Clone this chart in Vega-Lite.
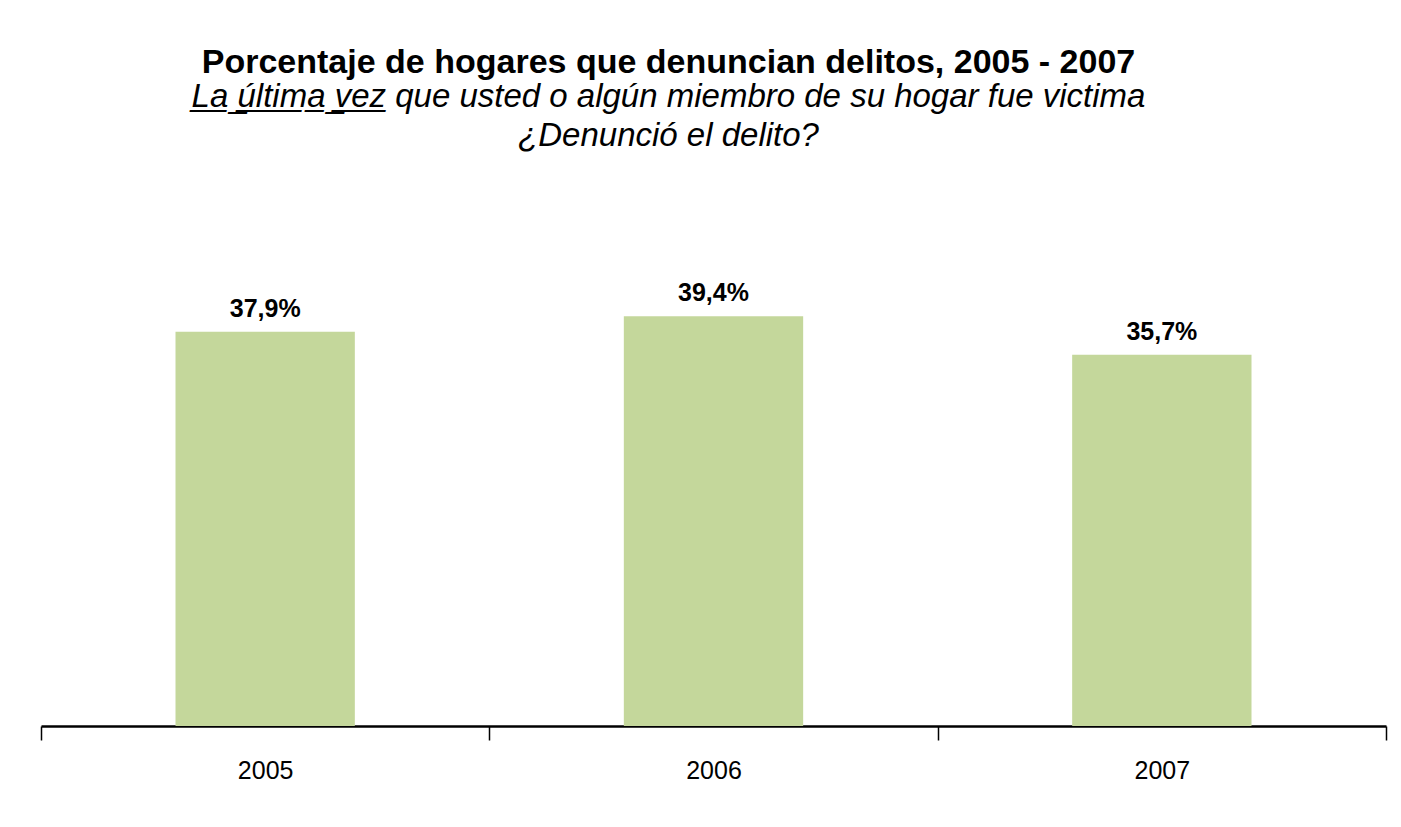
{
  "$schema": "https://vega.github.io/schema/vega-lite/v6.json",
  "autosize": "none",
  "width": 1345,
  "height": 416,
  "padding": {"left": 41, "top": 310, "right": 15, "bottom": 101},
  "background": "white",
  "title": {
    "text": "Porcentaje de hogares que denuncian delitos, 2005 - 2007",
    "subtitle": ["L̲a̲ ̲ú̲l̲t̲i̲m̲a̲ ̲v̲e̲z̲ que usted o algún miembro de su hogar fue victima\u00a0\u00a0\u00a0", "\u00a0\u00a0¿Denunció el delito?"],
    "anchor": "middle",
    "frame": "group",
    "dx": -45,
    "offset": 128,
    "font": "Liberation Sans",
    "fontSize": 34,
    "fontWeight": "bold",
    "color": "black",
    "subtitleFont": "Liberation Sans",
    "subtitleFontSize": 33,
    "subtitleFontStyle": "italic",
    "subtitleColor": "black",
    "subtitleLineHeight": 39,
    "subtitlePadding": 1
  },
  "data": {
    "values": [
      {"year": "2005", "pct": 37.9},
      {"year": "2006", "pct": 39.4},
      {"year": "2007", "pct": 35.7}
    ]
  },
  "transform": [
    {"calculate": "replace(format(datum.pct, '.1f'), '.', ',') + '%'", "as": "label"}
  ],
  "encoding": {
    "x": {
      "field": "year",
      "type": "nominal",
      "scale": {"paddingInner": 0, "paddingOuter": 0},
      "axis": {
        "title": null,
        "labelAngle": 0,
        "labelFont": "Liberation Sans",
        "labelFontSize": 25,
        "labelColor": "black",
        "labelPadding": 18,
        "domainColor": "black",
        "domainWidth": 2.5,
        "tickColor": "black",
        "tickWidth": 1.5,
        "tickSize": 14,
        "tickBand": "extent",
        "grid": false
      }
    },
    "y": {
      "field": "pct",
      "type": "quantitative",
      "scale": {"domain": [0, 40], "nice": false},
      "axis": null
    }
  },
  "layer": [
    {
      "mark": {"type": "bar", "color": "#C4D79B", "width": {"band": 0.4}}
    },
    {
      "mark": {
        "type": "text",
        "font": "Liberation Sans",
        "fontSize": 25,
        "fontWeight": "bold",
        "color": "black",
        "baseline": "alphabetic",
        "dy": -15
      },
      "encoding": {"text": {"field": "label"}}
    }
  ],
  "config": {"view": {"stroke": null}}
}
